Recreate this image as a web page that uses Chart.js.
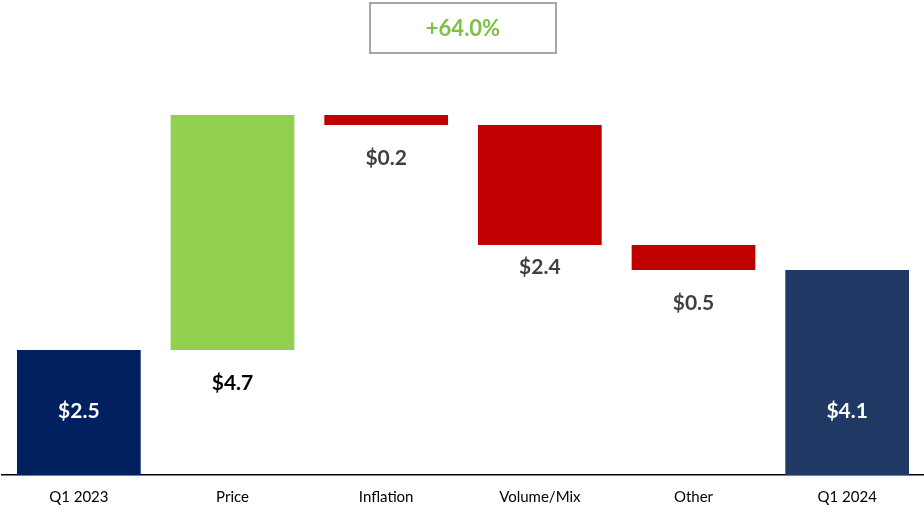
<!DOCTYPE html>
<html>
<head>
<meta charset="utf-8">
<script src="https://cdn.jsdelivr.net/npm/chart.js@4"></script>
<style>
  html, body { margin: 0; padding: 0; background: #fff; }
  #wrap { width: 924px; height: 508px; }
</style>
</head>
<body>
<div id="wrap"><canvas id="waterfall"></canvas></div>
<script>
// Categories along the x axis
const categories = ['Q1 2023', 'Price', 'Inflation', 'Volume/Mix', 'Other', 'Q1 2024'];

// Values: totals for the first/last bar, changes in between
const amounts = [2.5, 4.7, -0.2, -2.4, -0.5, 4.1];
const barKinds = ['total', 'change', 'change', 'change', 'change', 'total'];

// Labels shown on the bars
const valueLabels = ['$2.5', '$4.7', '$0.2', '$2.4', '$0.5', '$4.1'];

// Growth call-out at the top
const growthLabel = '+64.0%';

// Build floating ranges [low, high] for the waterfall
let running = 0;
const ranges = amounts.map((v, i) => {
    if (barKinds[i] === 'total') {
        running = v;
        return [0, v];
    }
    const start = running;
    running = start + v;
    return [Math.min(start, running), Math.max(start, running)];
});

const barColors = amounts.map((v, i) => {
    if (i === 0) return '#002060';
    if (barKinds[i] === 'total') return '#1F3864';
    return v >= 0 ? '#92D050' : '#C00000';
});

const FONT = 'Lato, "Open Sans", sans-serif';

// Draws the value labels and the growth box
const labelPlugin = {
    id: 'waterfallLabels',
    afterDatasetsDraw(chart) {
        const ctx = chart.ctx;
        const meta = chart.getDatasetMeta(0);
        const y = chart.scales.y;
        ctx.save();
        ctx.textAlign = 'center';
        ctx.textBaseline = 'middle';
        ctx.font = 'bold 21px ' + FONT;
        meta.data.forEach((bar, i) => {
            let ty;
            if (barKinds[i] === 'total') {
                ctx.fillStyle = '#ffffff';
                ty = y.getPixelForValue(0) - 64;
            } else {
                ctx.fillStyle = amounts[i] >= 0 ? '#000000' : '#404040';
                ty = y.getPixelForValue(ranges[i][0]) + (i === 3 ? 22 : 33);
            }
            ctx.fillText(valueLabels[i], bar.x, ty);
        });

        // growth box between Inflation and Volume/Mix
        const cx = (meta.data[2].x + meta.data[3].x) / 2;
        const bw = 186, bh = 50, by = 3;
        ctx.strokeStyle = '#A6A6A6';
        ctx.lineWidth = 2;
        ctx.strokeRect(cx - bw / 2, by, bw, bh);
        ctx.fillStyle = '#7DC242';
        ctx.font = 'bold 22px ' + FONT;
        ctx.fillText(growthLabel, cx, by + bh / 2 + 1);
        ctx.restore();
    }
};

const ctx = document.getElementById('waterfall').getContext('2d');
const waterfallChart = new Chart(ctx, {
    type: 'bar',
    data: {
        labels: categories,
        datasets: [{
            data: ranges,
            backgroundColor: barColors,
            borderWidth: 0,
            categoryPercentage: 1.0,
            barPercentage: 0.805,
        }],
    },
    options: {
        responsive: true,
        maintainAspectRatio: false,
        animation: false,
        layout: {
            padding: { left: 2, right: 0, top: 0, bottom: 0 },
        },
        plugins: {
            legend: { display: false },
            tooltip: { enabled: false },
        },
        scales: {
            x: {
                grid: { display: false, drawTicks: false },
                border: { display: true, color: '#000000', width: 1.5 },
                ticks: {
                    color: '#000000',
                    padding: 13,
                    font: { family: FONT, size: 15 },
                },
                afterFit(scale) {
                    scale.height = 33; // keep the baseline near the bottom
                },
            },
            y: {
                display: false,
                min: 0,
                max: 9.5,
            },
        },
    },
    plugins: [labelPlugin],
});
</script>
</body>
</html>
